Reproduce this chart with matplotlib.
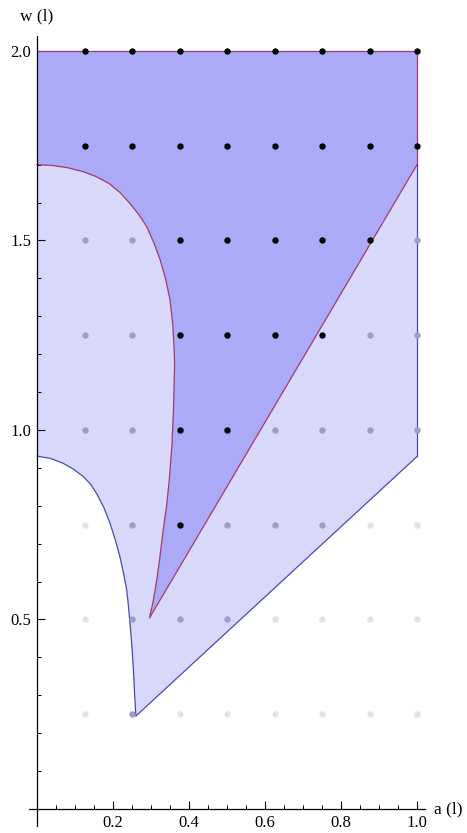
import numpy as np
import matplotlib.pyplot as plt
from matplotlib.ticker import FixedLocator

plt.rcParams["font.family"] = ["Liberation Serif", "DejaVu Serif"]

# boundary of the inner (dark) region: curved left edge, ending at the tip
red_x = [0.000, 0.040, 0.080, 0.120, 0.157, 0.190, 0.220, 0.245, 0.268,
         0.289, 0.307, 0.324, 0.338, 0.350, 0.357, 0.361, 0.362, 0.361,
         0.359, 0.355, 0.348, 0.341, 0.332, 0.324, 0.315, 0.306, 0.296]
red_y = [1.700, 1.698, 1.692, 1.682, 1.668, 1.650, 1.625, 1.597, 1.568,
         1.536, 1.495, 1.449, 1.400, 1.343, 1.280, 1.211, 1.170, 1.132,
         1.053, 0.960, 0.868, 0.800, 0.736, 0.670, 0.604, 0.550, 0.504]
red_line_end = (1.0, 1.70)

# boundary of the outer (light) region
blue_x = [0.000, 0.035, 0.069, 0.095, 0.122, 0.141, 0.157, 0.176, 0.192,
          0.206, 0.218, 0.228, 0.236, 0.239, 0.242, 0.2445, 0.247, 0.251,
          0.254, 0.257, 0.260]
blue_y = [0.931, 0.925, 0.912, 0.897, 0.877, 0.857, 0.832, 0.795, 0.754,
          0.710, 0.666, 0.620, 0.578, 0.550, 0.520, 0.490, 0.464, 0.410,
          0.358, 0.300, 0.245]
blue_line_end = (1.0, 0.93)

top_w = 2.0
right_a = 1.0

# sample grid, rows from w=2.0 down to w=0.25
# B = inside inner region, g = inside outer region only, o = outside
grid_a = [0.125, 0.25, 0.375, 0.5, 0.625, 0.75, 0.875, 1.0]
grid_w = [2.0, 1.75, 1.5, 1.25, 1.0, 0.75, 0.5, 0.25]
grid_state = [
    "BBBBBBBB",
    "BBBBBBBB",
    "ggBBBBBg",
    "ggBBBBgg",
    "ggBBgggg",
    "ogBgggoo",
    "ogggoooo",
    "ogoooooo",
]

dark_fill = "#aaaaf8"
light_fill = "#d8d8fb"
red_edge = "#a8386e"
blue_edge = "#4a4ab4"
dot_colors = {"B": "#000000", "g": "#9c9cc8", "o": "#e2e2e2"}

fig = plt.figure(figsize=(4.67, 8.33), dpi=100)
ax = fig.add_axes([0.063, 0.0084, 0.8463, 0.9486])
ax.set_xlim(-0.02, 1.02)
ax.set_ylim(-0.045, 2.04)

# light region
lx = list(blue_x) + [blue_line_end[0], right_a, 0.0]
ly = list(blue_y) + [blue_line_end[1], top_w, top_w]
ax.fill(lx, ly, color=light_fill, lw=0, zorder=1)

# dark region
dx = list(red_x) + [red_line_end[0], right_a, 0.0]
dy = list(red_y) + [red_line_end[1], top_w, top_w]
ax.fill(dx, dy, color=dark_fill, lw=0, zorder=2)

# edges
ax.plot(red_x + [red_line_end[0]], red_y + [red_line_end[1]],
        color=red_edge, lw=0.9, zorder=3, solid_joinstyle="round")
ax.plot([0.0, right_a, right_a], [top_w, top_w, red_line_end[1]],
        color=red_edge, lw=0.9, zorder=3)
ax.plot(blue_x + [blue_line_end[0]], blue_y + [blue_line_end[1]],
        color=blue_edge, lw=0.9, zorder=3, solid_joinstyle="round")
ax.plot([right_a, right_a], [red_line_end[1], blue_line_end[1]],
        color=blue_edge, lw=0.9, zorder=3)

# sample points
for w, row in zip(grid_w, grid_state):
    for a, s in zip(grid_a, row):
        ax.plot(a, w, "o", ms=4.6, mec="none", mfc=dot_colors[s],
                zorder=4 if s == "B" else 3.5, clip_on=False)

# axes crossing at the origin
for side in ("top", "right"):
    ax.spines[side].set_visible(False)
ax.spines["left"].set_position(("data", 0))
ax.spines["bottom"].set_position(("data", 0))
for side in ("left", "bottom"):
    ax.spines[side].set_linewidth(0.9)
    ax.spines[side].set_zorder(5)

ax.xaxis.set_major_locator(FixedLocator([0.2, 0.4, 0.6, 0.8, 1.0]))
ax.xaxis.set_minor_locator(FixedLocator(np.arange(0.05, 1.01, 0.05)))
ax.yaxis.set_major_locator(FixedLocator([0.5, 1.0, 1.5, 2.0]))
ax.yaxis.set_minor_locator(FixedLocator(np.arange(0.1, 2.01, 0.1)))
ax.xaxis.set_major_formatter(plt.FuncFormatter(lambda v, p: f"{v:.1f}"))
ax.yaxis.set_major_formatter(plt.FuncFormatter(lambda v, p: f"{v:.1f}"))

ax.tick_params(which="major", direction="in", length=5.5, width=0.8,
               labelsize=12, pad=4.5)
ax.tick_params(which="minor", direction="in", length=3, width=0.7)
ax.tick_params(axis="y", which="major", pad=4)

ax.text(0.0, 2.09, "w (l)", fontsize=12.5, ha="center", va="center",
        clip_on=False)
ax.text(1.045, 0.0, "a (l)", fontsize=12.5, ha="left", va="center",
        clip_on=False)

fig.savefig("out.png", dpi=100)
